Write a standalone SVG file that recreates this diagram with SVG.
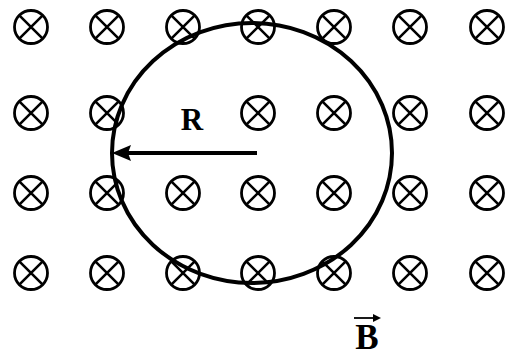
<svg xmlns="http://www.w3.org/2000/svg" width="514" height="356" viewBox="0 0 514 356">
<defs>
<g id="x">
<circle r="16.5" fill="none" stroke="#000" stroke-width="2.8"/>
<path d="M-11.7,-11.7 L11.7,11.7 M11.7,-11.7 L-11.7,11.7" stroke="#000" stroke-width="2.6"/>
</g>
</defs>
<style>
.lbl{font-family:"Liberation Serif",serif;font-weight:bold;fill:#000}
</style>
<rect width="514" height="356" fill="#fff"/>
<g id="field">
<use href="#x" x="31" y="27"/><use href="#x" x="107" y="27"/><use href="#x" x="183" y="27"/><use href="#x" x="258" y="27"/><use href="#x" x="334" y="27"/><use href="#x" x="410" y="27"/><use href="#x" x="487" y="27"/>
<use href="#x" x="31" y="113"/><use href="#x" x="107" y="113"/><use href="#x" x="258" y="113"/><use href="#x" x="334" y="113"/><use href="#x" x="410" y="113"/><use href="#x" x="487" y="113"/>
<use href="#x" x="31" y="193"/><use href="#x" x="107" y="193"/><use href="#x" x="183" y="193"/><use href="#x" x="258" y="193"/><use href="#x" x="334" y="193"/><use href="#x" x="410" y="193"/><use href="#x" x="487" y="193"/>
<use href="#x" x="31" y="273"/><use href="#x" x="107" y="273"/><use href="#x" x="183" y="273"/><use href="#x" x="258" y="273"/><use href="#x" x="334" y="273"/><use href="#x" x="410" y="273"/><use href="#x" x="487" y="273"/>
</g>
<g id="orbit">
<ellipse cx="252" cy="153" rx="140" ry="130" fill="none" stroke="#000" stroke-width="4"/>
</g>
<g id="connectors">
<path d="M257,153 H128" stroke="#000" stroke-width="4" fill="none"/>
<path d="M112,153 L131,145 L128,153 L131,161 Z" fill="#000"/>
</g>
<g id="labels">
<text class="lbl" x="192" y="130" font-size="31" text-anchor="middle">R</text>
<text class="lbl" x="367" y="349" font-size="35" text-anchor="middle">B</text>
<path d="M354,318 H376" stroke="#000" stroke-width="1.8"/>
<path d="M381,318 L373,314 L373,322 Z" fill="#000"/>
</g>
</svg>
